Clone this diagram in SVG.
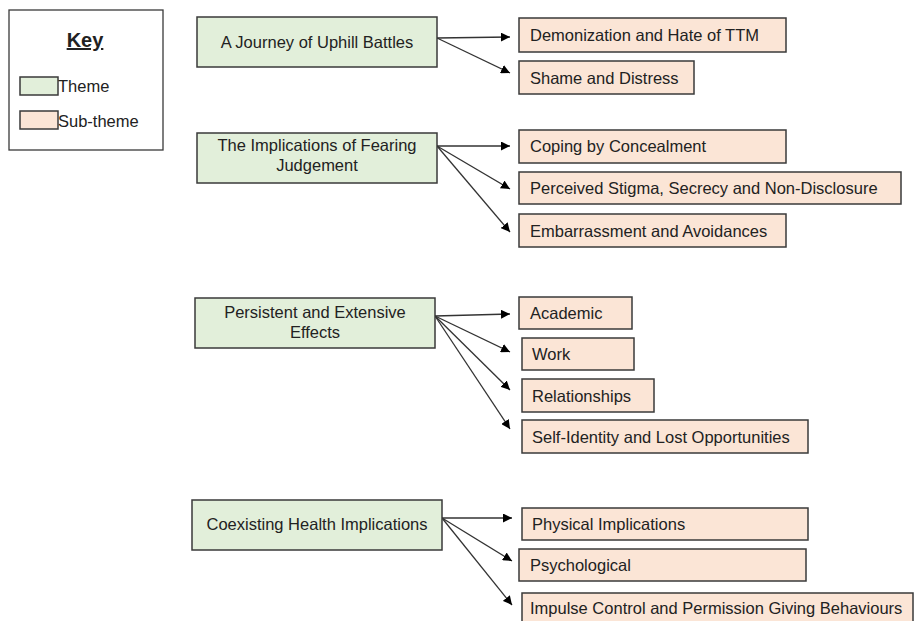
<svg xmlns="http://www.w3.org/2000/svg" width="916" height="621" viewBox="0 0 916 621">
  <defs>
    <marker id="arrow" viewBox="0 0 10 10" refX="10" refY="5" markerWidth="9" markerHeight="9" markerUnits="userSpaceOnUse" orient="auto">
      <path d="M0,0 L10,5 L0,10 Z" fill="#000"/>
    </marker>
    <style>
      text { font-family: "Liberation Sans", Arial, sans-serif; fill: #222; }
      .theme { fill: #e2efda; stroke: #3a3a3a; stroke-width: 1.5; }
      .sub { fill: #fbe5d6; stroke: #3a3a3a; stroke-width: 1.5; }
      .tt { font-size: 16.5px; text-anchor: middle; }
      .st { font-size: 16.5px; }
      .conn line { stroke: #333; stroke-width: 1.3; marker-end: url(#arrow); }
    </style>
  </defs>
  <rect width="916" height="621" fill="#fff"/>

  <!-- Legend -->
  <g id="key">
    <rect x="9" y="10" width="154" height="140" fill="#fff" stroke="#3a3a3a" stroke-width="1.3"/>
    <text x="85" y="47" font-size="20" font-weight="bold" text-anchor="middle" text-decoration="underline">Key</text>
    <rect class="theme" x="20" y="77" width="38" height="18"/>
    <text x="58" y="92" font-size="16.5">Theme</text>
    <rect class="sub" x="20" y="111" width="38" height="18"/>
    <text x="58" y="127" font-size="16.5">Sub-theme</text>
  </g>

  <!-- Connectors -->
  <g id="connectors" class="conn">
    <line x1="437" y1="38" x2="510" y2="37"/>
    <line x1="437" y1="38" x2="510" y2="73"/>
    <line x1="437" y1="146" x2="510" y2="146"/>
    <line x1="437" y1="146" x2="510" y2="189"/>
    <line x1="437" y1="146" x2="510" y2="232"/>
    <line x1="435" y1="316" x2="510" y2="314"/>
    <line x1="435" y1="316" x2="510" y2="352"/>
    <line x1="435" y1="316" x2="510" y2="390"/>
    <line x1="435" y1="316" x2="510" y2="429"/>
    <line x1="442" y1="518" x2="512" y2="518"/>
    <line x1="442" y1="518" x2="512" y2="561"/>
    <line x1="442" y1="518" x2="512" y2="605"/>
  </g>

  <!-- Theme 1 -->
  <g id="theme-uphill">
    <rect class="theme" x="197" y="17" width="240" height="50"/>
    <text class="tt" x="317" y="48">A Journey  of Uphill Battles</text>
  </g>
  <g id="sub-demonization">
    <rect class="sub" x="519" y="18" width="267" height="34"/>
    <text class="st" x="530" y="41">Demonization and Hate of TTM</text>
  </g>
  <g id="sub-shame">
    <rect class="sub" x="519" y="61" width="175" height="33"/>
    <text class="st" x="530" y="84">Shame and Distress</text>
  </g>

  <!-- Theme 2 -->
  <g id="theme-judgement">
    <rect class="theme" x="197" y="133" width="240" height="50"/>
    <text class="tt" x="317" y="151">The Implications  of Fearing</text>
    <text class="tt" x="317" y="171">Judgement</text>
  </g>
  <g id="sub-coping">
    <rect class="sub" x="519" y="130" width="267" height="33"/>
    <text class="st" x="530" y="152">Coping by Concealment</text>
  </g>
  <g id="sub-stigma">
    <rect class="sub" x="519" y="172" width="382" height="32"/>
    <text class="st" x="530" y="194">Perceived Stigma, Secrecy and Non-Disclosure</text>
  </g>
  <g id="sub-embarrassment">
    <rect class="sub" x="519" y="214" width="267" height="33"/>
    <text class="st" x="530" y="237">Embarrassment and Avoidances</text>
  </g>

  <!-- Theme 3 -->
  <g id="theme-effects">
    <rect class="theme" x="195" y="298" width="240" height="50"/>
    <text class="tt" x="315" y="318">Persistent and Extensive</text>
    <text class="tt" x="315" y="338">Effects</text>
  </g>
  <g id="sub-academic">
    <rect class="sub" x="519" y="297" width="113" height="32"/>
    <text class="st" x="530" y="319">Academic</text>
  </g>
  <g id="sub-work">
    <rect class="sub" x="522" y="338" width="112" height="32"/>
    <text class="st" x="532" y="360">Work</text>
  </g>
  <g id="sub-relationships">
    <rect class="sub" x="522" y="379" width="132" height="33"/>
    <text class="st" x="532" y="402">Relationships</text>
  </g>
  <g id="sub-identity">
    <rect class="sub" x="522" y="420" width="286" height="33"/>
    <text class="st" x="532" y="443">Self-Identity  and Lost Opportunities</text>
  </g>

  <!-- Theme 4 -->
  <g id="theme-health">
    <rect class="theme" x="192" y="500" width="250" height="50"/>
    <text class="tt" x="317" y="530">Coexisting Health Implications</text>
  </g>
  <g id="sub-physical">
    <rect class="sub" x="522" y="508" width="286" height="32"/>
    <text class="st" x="532" y="530">Physical Implications</text>
  </g>
  <g id="sub-psychological">
    <rect class="sub" x="519" y="549" width="287" height="32"/>
    <text class="st" x="530" y="571">Psychological</text>
  </g>
  <g id="sub-impulse">
    <rect class="sub" x="522" y="593" width="391" height="34"/>
    <text class="st" x="530" y="614">Impulse  Control and Permission Giving Behaviours</text>
  </g>
</svg>
